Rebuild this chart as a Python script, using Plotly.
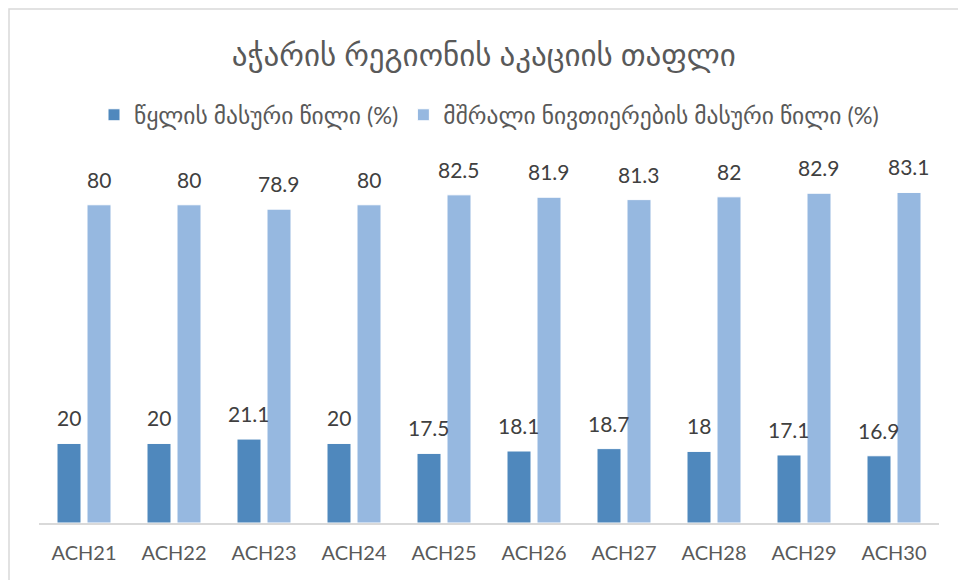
import plotly.graph_objects as go

# ნიმუშები და მნიშვნელობები
categories = ["ACH21", "ACH22", "ACH23", "ACH24", "ACH25",
              "ACH26", "ACH27", "ACH28", "ACH29", "ACH30"]
water = [20, 20, 21.1, 20, 17.5, 18.1, 18.7, 18, 17.1, 16.9]
dry = [80, 80, 78.9, 80, 82.5, 81.9, 81.3, 82, 82.9, 83.1]

series_names = ["წყლის მასური წილი (%)",
                "მშრალი ნივთიერების მასური წილი (%)"]
title_text = "აჭარის რეგიონის აკაციის თაფლი"

font_fam = "Lato, DejaVu Sans, sans-serif"
colors = ["#4f88bd", "#96b8e0"]

fig = go.Figure()
for name, vals, col in zip(series_names, [water, dry], colors):
    fig.add_trace(go.Bar(
        x=categories, y=vals, name=name,
        marker=dict(color=col, line=dict(color="#ffffff", width=1)),
    ))

# data labels above each bar (shifted onto the bar of each series)
annotations = []
for vals, shift in [(water, -15), (dry, 15)]:
    for c, v in zip(categories, vals):
        annotations.append(dict(
            x=c, y=v, text=str(v), showarrow=False, xref="x", yref="y",
            xshift=shift, yshift=11, yanchor="bottom",
            font=dict(size=21, color="#404040", family=font_fam),
        ))

fig.update_layout(
    width=958, height=580,
    paper_bgcolor="white", plot_bgcolor="white",
    font=dict(family=font_fam, color="#595959"),
    title=dict(text=title_text, x=0.505, xanchor="center", y=0.905, yanchor="middle",
               font=dict(size=31, color="#595959")),
    legend=dict(orientation="h", x=0.5, xanchor="center", y=408 / 358,
                yanchor="middle", font=dict(size=23.5, color="#595959"),
                itemwidth=30),
    barmode="group", bargap=1/3, bargroupgap=0.2,
    margin=dict(l=39, r=19, t=165, b=57, autoexpand=False),
    annotations=annotations,
)
fig.update_xaxes(showline=True, linecolor="#d9d9d9", linewidth=1.5,
                 tickfont=dict(size=20, color="#595959"), ticks="",
                 ticklabelstandoff=11, showgrid=False)
fig.update_yaxes(range=[0, 90], visible=False, showgrid=False)

fig.add_shape(type="rect", xref="paper", yref="paper",
              x0=-30/900, x1=1 + 40/900, y0=-80/358, y1=1 + 156/358,
              line=dict(color="#d9d9d9", width=1.5))

fig.write_html("out.html", config={"displayModeBar": False},
               post_script="document.body.style.margin='0';")
